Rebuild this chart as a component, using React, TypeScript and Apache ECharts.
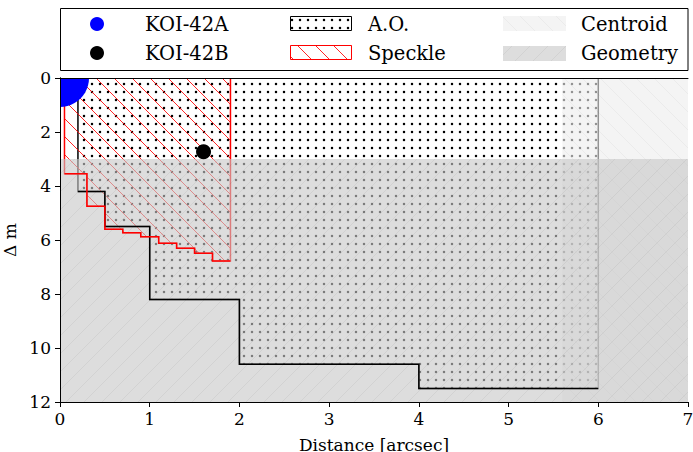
import React, { useEffect, useRef } from "react";
import * as echarts from "echarts";

// ---- data ----
const xTickValues = [0, 1, 2, 3, 4, 5, 6, 7];
const yTickValues = [0, 2, 4, 6, 8, 10, 12];
const aoSeparations = [0.2, 0.5, 1.0, 2.0, 4.0, 6.0];
const aoLimits = [4.2, 5.5, 8.2, 10.6, 11.5];
const speckleSeparations = [0.05, 0.3, 0.5, 0.7, 0.9, 1.1, 1.3, 1.5, 1.7, 1.9];
const speckleLimits = [3.55, 4.75, 5.6, 5.73, 5.88, 6.12, 6.31, 6.49, 6.78];
const centroidX = [5.6, 7];
const centroidDm = [0, 12];
const geometryX = [0, 7];
const geometryDm = [3, 12];
const starNames = ["KOI-42A", "KOI-42B"];
const starDistance = [0, 1.6];
const starDeltaMag = [0, 2.73];

const FONT = '"DejaVu Serif", serif';

function stepPolygon(sep: number[], lim: number[]) {
  const pts: number[][] = [[sep[0], 0]];
  for (let i = 0; i < lim.length; i++) {
    pts.push([sep[i], lim[i]]);
    pts.push([sep[i + 1], lim[i]]);
  }
  pts.push([sep[sep.length - 1], 0]);
  return pts;
}
function stepLine(sep: number[], lim: number[]) {
  const pts: number[][] = [];
  for (let i = 0; i < lim.length; i++) {
    pts.push([sep[i], lim[i]]);
    pts.push([sep[i + 1], lim[i]]);
  }
  return pts;
}
function rectPolygon(xs: number[], ys: number[]) {
  return [
    [xs[0], ys[0]],
    [xs[1], ys[0]],
    [xs[1], ys[1]],
    [xs[0], ys[1]],
  ];
}

function makePattern(size: number, draw: (ctx: CanvasRenderingContext2D, s: number) => void) {
  const c = document.createElement("canvas");
  c.width = size;
  c.height = size;
  const ctx = c.getContext("2d")!;
  draw(ctx, size);
  return { image: c.toDataURL(), repeat: "repeat", imageWidth: size, imageHeight: size } as any;
}
function hatch(ctx: CanvasRenderingContext2D, s: number, dir: "back" | "fwd", color: string, lw: number) {
  ctx.strokeStyle = color;
  ctx.lineWidth = lw;
  ctx.beginPath();
  for (const k of [-s, 0, s]) {
    if (dir === "back") {
      ctx.moveTo(k, 0);
      ctx.lineTo(k + s, s);
    } else {
      ctx.moveTo(k, s);
      ctx.lineTo(k + s, 0);
    }
  }
  ctx.stroke();
}

export default function App() {
  const ref = useRef<HTMLDivElement>(null);
  useEffect(() => {
    const chart = echarts.init(ref.current!, null, { renderer: "svg" });

    const dotPattern = makePattern(8, (ctx) => {
      ctx.fillStyle = "#000";
      ctx.beginPath();
      ctx.arc(4, 4, 1.25, 0, Math.PI * 2);
      ctx.fill();
    });
    const redHatch = makePattern(18, (ctx, s) => hatch(ctx, s, "back", "rgba(255,0,0,0.85)", 1));
    const centroidPattern = makePattern(18, (ctx, s) => {
      ctx.fillStyle = "rgba(238,238,238,0.62)";
      ctx.fillRect(0, 0, s, s);
      hatch(ctx, s, "back", "rgba(0,0,0,0.035)", 1);
    });
    const geometryPattern = makePattern(18, (ctx, s) => {
      ctx.fillStyle = "rgba(200,200,200,0.62)";
      ctx.fillRect(0, 0, s, s);
      hatch(ctx, s, "fwd", "rgba(0,0,0,0.05)", 1);
    });

    const polySeries = (name: string, pts: number[][], style: any, z: number) => ({
      type: "custom",
      name,
      z,
      clip: true,
      silent: true,
      data: [[0, 0]],
      renderItem: (_p: any, api: any) => ({
        type: "polygon",
        shape: { points: pts.map((p) => api.coord(p)) },
        style,
      }),
    });
    const lineSeries = (name: string, pts: number[][], color: string, z: number) => ({
      type: "custom",
      name,
      z,
      clip: true,
      silent: true,
      data: [[0, 0]],
      renderItem: (_p: any, api: any) => ({
        type: "polyline",
        shape: { points: pts.map((p) => api.coord(p)) },
        style: { stroke: color, lineWidth: 1.5, fill: null },
      }),
    });

    const hiddenAxis = {
      show: true,
      axisLabel: { show: false },
      axisTick: { show: false },
      splitLine: { show: false },
      axisLine: { show: true, lineStyle: { color: "#000", width: 1 } },
      z: 10,
    };

    const legendY1 = 24;
    const legendY2 = 53;
    const lt = (text: string, x: number, y: number) => ({
      type: "text",
      x,
      y,
      style: { text, fontSize: 19.5, fontFamily: FONT, fill: "#000", verticalAlign: "middle", align: "left" },
    });

    chart.setOption({
      animation: false,
      grid: { left: 60, top: 78, right: 5, bottom: 50, containLabel: false, outerBoundsMode: "none" },
      xAxis: [
        {
          type: "value",
          min: 0,
          max: 7,
          interval: 1,
          name: "Distance [arcsec]",
          nameLocation: "middle",
          nameGap: 34,
          nameTextStyle: { fontSize: 17, fontFamily: FONT, color: "#000" },
          axisLine: { show: true, onZero: false, lineStyle: { color: "#000", width: 1 } },
          axisTick: { show: true, length: 5, lineStyle: { color: "#000" } },
          axisLabel: { fontSize: 17, fontFamily: FONT, color: "#000", margin: 8 },
          splitLine: { show: false },
          z: 10,
        },
        { type: "value", min: 0, max: 7, position: "top", ...hiddenAxis },
      ],
      yAxis: [
        {
          type: "value",
          min: 0,
          max: 12,
          interval: 2,
          inverse: true,
          name: "Δ m",
          nameLocation: "middle",
          nameRotate: 90,
          nameGap: 36,
          nameTextStyle: { fontSize: 17, fontFamily: FONT, color: "#000" },
          axisLine: { show: true, onZero: false, lineStyle: { color: "#000", width: 1 } },
          axisTick: { show: true, length: 5, lineStyle: { color: "#000" } },
          axisLabel: { fontSize: 17, fontFamily: FONT, color: "#000", margin: 9 },
          splitLine: { show: false },
          z: 10,
        },
        { type: "value", min: 0, max: 12, inverse: true, position: "right", ...hiddenAxis },
      ],
      series: [
        polySeries("A.O.", stepPolygon(aoSeparations, aoLimits), { fill: dotPattern, stroke: "#000", lineWidth: 1.5 }, 1),
        polySeries(
          "Speckle",
          stepPolygon(speckleSeparations, speckleLimits),
          { fill: redHatch, stroke: "#ff0000", lineWidth: 1.5 },
          2
        ),
        polySeries("Centroid", rectPolygon(centroidX, centroidDm), { fill: centroidPattern, stroke: null }, 3),
        polySeries("Geometry", rectPolygon(geometryX, geometryDm), { fill: geometryPattern, stroke: null }, 4),
        lineSeries("A.O. limit", stepLine(aoSeparations, aoLimits), "#000", 5),
        lineSeries("Speckle limit", stepLine(speckleSeparations, speckleLimits), "#ff0000", 5),
        {
          type: "custom",
          name: starNames[0],
          z: 6,
          clip: true,
          data: [[starDistance[0], starDeltaMag[0]]],
          renderItem: (_p: any, api: any) => {
            const c = api.coord([api.value(0), api.value(1)]);
            return { type: "circle", shape: { cx: c[0], cy: c[1], r: 29 }, style: { fill: "#0000ff" } };
          },
        },
        {
          type: "scatter",
          name: starNames[1],
          z: 6,
          symbol: "circle",
          symbolSize: 15,
          itemStyle: { color: "#000", opacity: 1 },
          data: [[starDistance[1], starDeltaMag[1]]],
        },
      ],
      graphic: [
        {
          type: "rect",
          shape: { x: 60.5, y: 8.5, width: 627.5, height: 62 },
          style: { fill: "#fff", stroke: "#000", lineWidth: 1 },
          z: 20,
        },
        { type: "circle", shape: { cx: 97, cy: legendY1, r: 7 }, style: { fill: "#0000ff" }, z: 21 },
        { type: "circle", shape: { cx: 97, cy: legendY2, r: 7 }, style: { fill: "#000" }, z: 21 },
        { ...lt(starNames[0], 145, legendY1), z: 21 },
        { ...lt(starNames[1], 145, legendY2), z: 21 },
        {
          type: "rect",
          shape: { x: 290.5, y: 16.5, width: 61, height: 14 },
          style: { fill: dotPattern, stroke: "#000", lineWidth: 1 },
          z: 21,
        },
        {
          type: "rect",
          shape: { x: 290.5, y: 45.5, width: 61, height: 14 },
          style: { fill: redHatch, stroke: "#ff0000", lineWidth: 1 },
          z: 21,
        },
        { ...lt("A.O.", 368, legendY1), z: 21 },
        { ...lt("Speckle", 368, legendY2), z: 21 },
        {
          type: "rect",
          shape: { x: 503, y: 16, width: 63, height: 15 },
          style: { fill: centroidPattern },
          z: 21,
        },
        {
          type: "rect",
          shape: { x: 503, y: 46, width: 63, height: 15 },
          style: { fill: geometryPattern },
          z: 21,
        },
        { ...lt("Centroid", 581, legendY1), z: 21 },
        { ...lt("Geometry", 581, legendY2), z: 21 },
      ],
    });
    return () => chart.dispose();
  }, []);
  return <div ref={ref} style={{ position: "absolute", left: 0, top: 0, width: 693, height: 452 }} />;
}
